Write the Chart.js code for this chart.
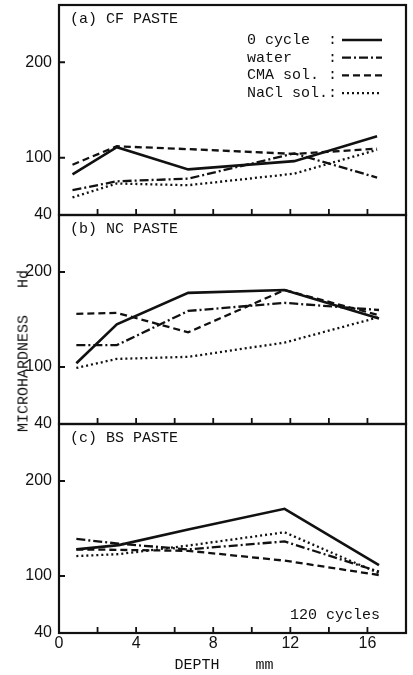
<!DOCTYPE html>
<html>
<head>
<meta charset="utf-8">
<script src="https://cdn.jsdelivr.net/npm/chart.js@4.4.1/dist/chart.umd.min.js"></script>
<style>
html, body { margin: 0; padding: 0; background: #fff; }
#wrap { position: relative; width: 413px; height: 675px; overflow: hidden; }
canvas { position: absolute; left: 0; top: 0; }
.lbl { position: absolute; font-family: "Liberation Mono", monospace; font-size: 15px; color: #111; white-space: pre; }
#ytitle { left: 24px; top: 351px; transform: translate(-50%, -50%) rotate(-90deg); }
#xtitle { left: 224px; top: 665px; transform: translate(-50%, -50%); }
</style>
</head>
<body>
<div id="wrap">
  <canvas id="pa" width="413" height="675"></canvas>
  <canvas id="pb" width="413" height="675"></canvas>
  <canvas id="pc" width="413" height="675"></canvas>
  <div class="lbl" id="ytitle">MICROHARDNESS   Hd</div>
  <div class="lbl" id="xtitle">DEPTH    mm</div>
</div>
<script>
// series names (legend order)
const seriesNames = ['0 cycle', 'water', 'CMA sol.', 'NaCl sol.'];

// depth of the measuring points, mm (read per panel)
const depthA = [0.7, 3.0, 6.7, 12.2, 16.5];
const depthB = [0.9, 3.0, 6.7, 11.7, 16.6];
const depthC = [0.9, 3.1, 6.7, 11.7, 16.6];

// (a) CF paste
const cfZero  = [82.6, 111, 87.8, 96.4, 122.4];
const cfWater = [66, 75.3, 78.1, 104.5, 79.2];
const cfCma   = [92.7, 112, 109, 104, 109.5];
const cfNacl  = [58.4, 73, 71.2, 83.3, 108.3];

// (b) NC paste
const ncZero  = [104, 145, 178, 181, 151];
const ncWater = [123, 123, 159, 167.5, 160];
const ncCma   = [156, 157, 136.5, 181, 154.5];
const ncNacl  = [99, 108.5, 110.7, 125.7, 152.5];

// (c) BS paste
const bsZero  = [128, 132.5, 149, 170.7, 111.5];
const bsWater = [139, 134, 128, 136.4, 104.6];
const bsCma   = [128, 127.5, 126.5, 116.2, 101];
const bsNacl  = [121, 123, 132, 146, 103];

// axes
const yTicks = [40, 100, 200];
const yMin = 40, yMax = 260;
const xTicks = [0, 2, 4, 6, 8, 10, 12, 14, 16];
const xMin = 0, xMax = 18;

const ink = '#111';
const dashes = [[], [9, 3, 2, 3], [7, 4], [2, 3]];
const monoFont = '15px "Liberation Mono", monospace';

const framePlugin = {
  id: 'frame',
  afterDraw(chart, args, opts) {
    const { ctx, chartArea: a, scales } = chart;
    ctx.save();
    ctx.strokeStyle = ink;
    ctx.lineWidth = 2.2;
    ctx.strokeRect(a.left, a.top, a.right - a.left, a.bottom - a.top);
    // inward tick marks
    ctx.lineWidth = 1.8;
    ctx.beginPath();
    xTicks.forEach(v => {
      if (v <= xMin) return;
      const px = scales.x.getPixelForValue(v);
      ctx.moveTo(px, a.bottom);
      ctx.lineTo(px, a.bottom - 6);
    });
    yTicks.forEach(v => {
      if (v <= yMin) return;
      const py = scales.y.getPixelForValue(v);
      ctx.moveTo(a.left, py);
      ctx.lineTo(a.left + 6, py);
    });
    ctx.stroke();

    ctx.fillStyle = ink;
    ctx.font = monoFont;
    ctx.textBaseline = 'middle';
    ctx.textAlign = 'left';
    ctx.fillText(opts.title, a.left + 11, a.top + 14);
    if (opts.note) {
      ctx.textAlign = 'right';
      ctx.fillText(opts.note, a.right - 26, a.bottom - 18);
    }
    if (opts.legend) {
      chart.data.datasets.forEach((ds, i) => {
        const y = a.top + 35 + i * 17.7;
        ctx.textAlign = 'left';
        ctx.fillText(ds.label.padEnd(9) + ':', a.right - 159, y);
        ctx.save();
        ctx.lineWidth = ds.borderWidth;
        ctx.setLineDash(ds.borderDash);
        ctx.beginPath();
        ctx.moveTo(a.right - 64, y);
        ctx.lineTo(a.right - 24, y);
        ctx.stroke();
        ctx.restore();
      });
    }
    ctx.restore();
  }
};

function makePanel(id, depth, series, top, bottom, opts) {
  const datasets = series.map((vals, i) => ({
    label: seriesNames[i],
    data: depth.map((d, j) => ({ x: d, y: vals[j] })),
    borderColor: ink,
    borderWidth: i === 0 ? 2.6 : 2.3,
    borderDash: dashes[i],
    pointRadius: 0,
    fill: false,
    tension: 0
  }));
  const showX = !!opts.xLabels;
  const xHeight = showX ? 20 : 0;
  return new Chart(document.getElementById(id), {
    type: 'line',
    data: { datasets },
    plugins: [framePlugin],
    options: {
      responsive: false,
      animation: false,
      layout: { padding: { left: 0, right: 7, top: top, bottom: 675 - bottom - xHeight } },
      plugins: {
        legend: { display: false },
        tooltip: { enabled: false },
        frame: opts
      },
      scales: {
        x: {
          type: 'linear', min: xMin, max: xMax,
          grid: { display: false, drawTicks: false },
          border: { display: false },
          afterBuildTicks: s => { s.ticks = xTicks.map(v => ({ value: v })); },
          afterFit: s => { s.height = xHeight; s.paddingLeft = 0; s.paddingRight = 0; },
          ticks: {
            display: showX,
            padding: 1,
            color: ink,
            maxRotation: 0,
            autoSkip: false,
            font: { family: '"Liberation Sans", sans-serif', size: 16 },
            callback: v => (v % 4 === 0 ? String(v) : '')
          }
        },
        y: {
          min: yMin, max: yMax,
          grid: { display: false, drawTicks: false },
          border: { display: false },
          afterBuildTicks: s => { s.ticks = yTicks.map(v => ({ value: v })); },
          afterFit: s => { s.width = 59; s.paddingTop = 0; s.paddingBottom = 0; },
          ticks: {
            padding: 7,
            color: ink,
            autoSkip: false,
            font: { family: '"Liberation Sans", sans-serif', size: 16 }
          }
        }
      }
    }
  });
}

makePanel('pa', depthA, [cfZero, cfWater, cfCma, cfNacl], 5, 215, { title: '(a) CF PASTE', legend: true });
makePanel('pb', depthB, [ncZero, ncWater, ncCma, ncNacl], 215, 424, { title: '(b) NC PASTE' });
makePanel('pc', depthC, [bsZero, bsWater, bsCma, bsNacl], 424, 633, { title: '(c) BS PASTE', note: '120 cycles', xLabels: true });
</script>
</body>
</html>
